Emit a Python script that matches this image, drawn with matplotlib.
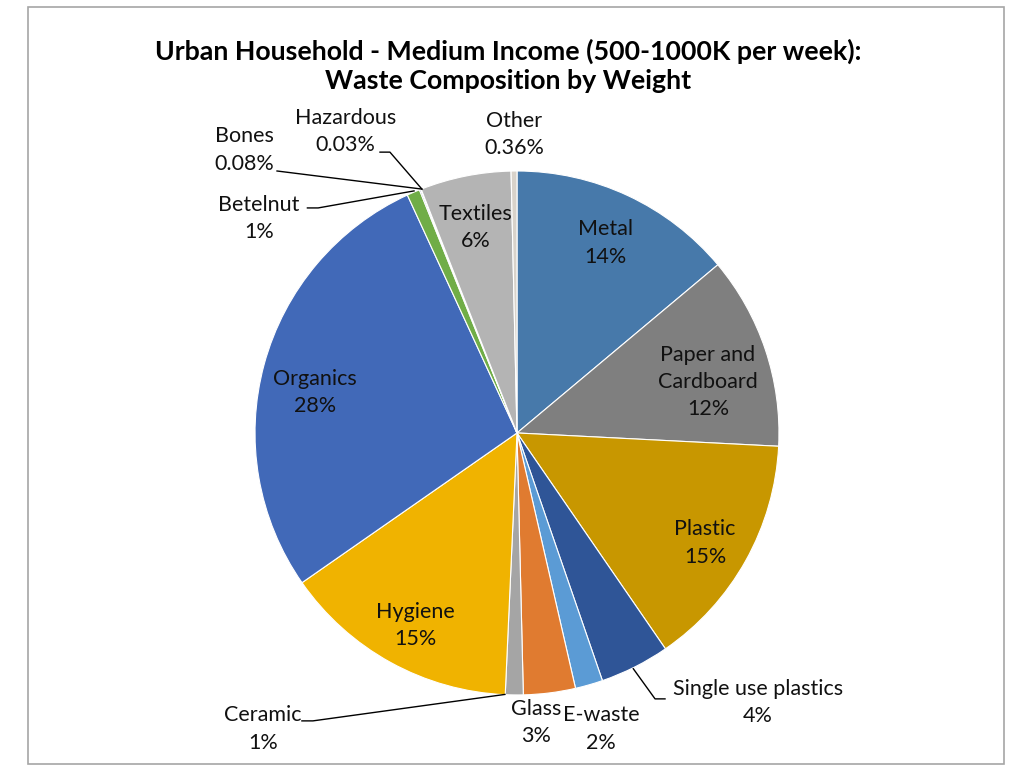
import matplotlib
matplotlib.use("Agg")
import matplotlib.pyplot as plt
import numpy as np
from matplotlib.patches import Rectangle

plt.rcParams["font.family"] = ["Lato", "DejaVu Sans"]

# slice order runs clockwise from 12 o'clock
categories = ["Metal", "Paper and\nCardboard", "Plastic", "Single use plastics",
              "E-waste", "Glass", "Ceramic", "Hygiene", "Organics", "Betelnut",
              "Bones", "Hazardous", "Textiles", "Other"]
shares = [13.9, 11.9, 14.6, 4.3, 1.7, 3.2, 1.1, 14.6, 27.8, 0.8,
          0.08, 0.03, 5.6, 0.36]
colors = ["#4779AA", "#7F7F7F", "#C89700", "#2F5597", "#5B9BD5", "#E07B30",
          "#A5A5A5", "#F0B300", "#4169B8", "#70AD47", "#264478", "#B4A7D6",
          "#B4B4B4", "#D8D2CA"]

# labels placed inside the wedge, with a small nudge (dx, dy) in pie units
inside = {"Metal": (0.0, 0.0), "Paper and\nCardboard": (-0.03, -0.06),
          "Plastic": (0.02, -0.03), "Hygiene": (0.0, -0.035),
          "Organics": (0.0, -0.055), "Textiles": (0.0, 0.0)}

# outside label anchors (x, y) and optional leader line points, in pie units
outside = {
    "Single use plastics": ((0.92, -1.03), [(0.444, -0.900), (0.527, -1.015), (0.565, -1.015)]),
    "E-waste": ((0.32, -1.13), None),
    "Glass": ((0.073, -1.105), None),
    "Ceramic": ((-0.97, -1.13), [(-0.821, -1.099), (-0.779, -1.099), (-0.046, -0.998)]),
    "Betelnut": ((-0.985, 0.82), [(-0.80, 0.859), (-0.759, 0.859), (-0.393, 0.924)]),
    "Bones": ((-1.04, 1.08), [(-0.916, 1.00), (-0.363, 0.931)]),
    "Hazardous": ((-0.655, 1.15), [(-0.523, 1.072), (-0.485, 1.072), (-0.363, 0.931)]),
    "Other": ((-0.011, 1.14), None),
}


def pct_text(v):
    return f"{v:.0f}%" if v >= 0.5 else f"{v:.2f}%"


fig = plt.figure(figsize=(10.16, 7.67), dpi=100)
fig.patches.append(Rectangle((28 / 1016, 3 / 767), 976 / 1016, 757 / 767,
                             transform=fig.transFigure, fill=False,
                             edgecolor="#A6A6A6", linewidth=1.2))

ax = fig.add_axes([0.251, 0.0939, 0.5157, 0.6832])
wedges, _ = ax.pie(shares, colors=colors, startangle=90, counterclock=False,
                   wedgeprops=dict(edgecolor="white", linewidth=0.8))
ax.set_xlim(-1, 1)
ax.set_ylim(-1, 1)
ax.set_aspect("equal")
ax.axis("off")

text_kw = dict(ha="center", va="center", fontsize=15.5, linespacing=1.45,
               color="#111111", clip_on=False)

for w, name, v in zip(wedges, categories, shares):
    label = f"{name}\n{pct_text(v)}"
    if name in inside:
        mid = np.deg2rad((w.theta1 + w.theta2) / 2)
        dx, dy = inside[name]
        ax.text(0.8 * np.cos(mid) + dx, 0.8 * np.sin(mid) + dy, label, **text_kw)
    else:
        (tx, ty), leader = outside[name]
        ax.text(tx, ty, label, **text_kw)
        if leader:
            xs, ys = zip(*leader)
            ax.plot(xs, ys, color="black", linewidth=1, clip_on=False)

fig.text(0.5, 0.914, "Urban Household - Medium Income (500-1000K per week):\nWaste Composition by Weight",
         ha="center", va="center", fontsize=19.3, fontweight="bold", linespacing=1.25)

fig.savefig("out.png", dpi=100)
